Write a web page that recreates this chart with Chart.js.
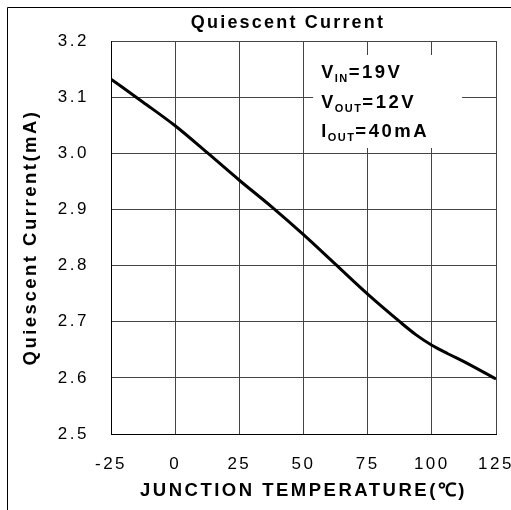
<!DOCTYPE html>
<html>
<head>
<meta charset="utf-8">
<script src="https://cdn.jsdelivr.net/npm/chart.js@4"></script>
<style>
  html, body { margin: 0; padding: 0; background: #fff; }
</style>
</head>
<body>
<canvas id="qc" width="511" height="510"></canvas>
<script>
// values
const temps = [-25, -12.5, 0, 12.5, 25, 37.5, 50, 62.5, 75, 87.5, 93.75, 100, 106.25, 112.5, 125];
const currentMA = [3.132, 3.091, 3.049, 3.001, 2.952, 2.905, 2.855, 2.802, 2.749, 2.700, 2.677, 2.658, 2.643, 2.629, 2.598];
const xTicks = [-25, 0, 25, 50, 75, 100, 125];
const yTicks = [2.5, 2.6, 2.7, 2.8, 2.9, 3.0, 3.1, 3.2];
const conditions = [['V', 'IN', '=19V'], ['V', 'OUT', '=12V'], ['I', 'OUT', '=40mA']];

const FONT = "'Liberation Sans', Arial, sans-serif";
const SPACING = '2.5px';

// frame, title and the test-condition box
const sheet = {
  id: 'sheet',
  beforeLayout(chart) {
    chart.ctx.letterSpacing = SPACING;
  },
  beforeDraw(chart) {
    const c = chart.ctx;
    c.letterSpacing = SPACING;
    c.save();
    c.fillStyle = '#fff';
    c.fillRect(0, 0, chart.width, chart.height);
    c.strokeStyle = '#000';
    c.lineWidth = 1;
    c.beginPath();
    c.moveTo(7.5, chart.height);
    c.lineTo(7.5, 7.5);
    c.lineTo(chart.width, 7.5);
    c.stroke();
    c.restore();
  },
  afterDraw(chart) {
    const c = chart.ctx;
    const a = chart.chartArea;
    c.save();
    c.fillStyle = '#000';
    c.letterSpacing = '2.2px';
    c.font = 'bold 18px ' + FONT;
    c.textAlign = 'center';
    c.textBaseline = 'alphabetic';
    c.fillText('Quiescent Current', 288, 28);

    // white box hiding the grid behind the text
    const bx = a.left + (a.right - a.left) * 0.525;
    const by = a.top + 14;
    c.fillStyle = '#fff';
    c.fillRect(bx, by, 149, 93);

    c.fillStyle = '#000';
    c.textAlign = 'left';
    let base = by + 23;
    conditions.forEach(([main, sub, rest]) => {
      let x = bx + 8;
      c.letterSpacing = '2.5px';
      c.font = 'bold 18px ' + FONT;
      c.fillText(main, x, base);
      x += c.measureText(main).width - 1;
      c.letterSpacing = '1.5px';
      c.font = 'bold 11px ' + FONT;
      c.fillText(sub, x, base + 4);
      x += c.measureText(sub).width;
      c.letterSpacing = '2.5px';
      c.font = 'bold 18.5px ' + FONT;
      c.fillText(rest, x, base);
      base += 29.5;
    });
    c.restore();
    c.letterSpacing = SPACING;
  }
};

new Chart(document.getElementById('qc'), {
  type: 'line',
  data: {
    datasets: [{
      data: temps.map((t, i) => ({ x: t, y: currentMA[i] })),
      borderColor: '#000',
      borderWidth: 3,
      pointRadius: 0,
      cubicInterpolationMode: 'monotone',
      fill: false
    }]
  },
  options: {
    responsive: false,
    animation: false,
    devicePixelRatio: 1,
    layout: { padding: { top: 41, left: 0, right: 0, bottom: 0 } },
    plugins: {
      legend: { display: false },
      title: { display: false },
      tooltip: { enabled: false }
    },
    scales: {
      x: {
        type: 'linear',
        min: -25,
        max: 125,
        afterBuildTicks: s => { s.ticks = xTicks.map(v => ({ value: v })); },
        afterFit: s => { s.height = 76; s.paddingRight = 15; },
        grid: { color: '#444', lineWidth: 1, drawTicks: false },
        border: { display: true, color: '#000', width: 1 },
        ticks: {
          color: '#000',
          padding: 20,
          maxRotation: 0,
          font: { family: FONT, size: 17 },
          callback: v => String(v)
        },
        title: {
          display: true,
          text: 'JUNCTION TEMPERATURE(℃)',
          color: '#000',
          font: { family: FONT, size: 18.5, weight: 'bold' },
          padding: { top: 0, bottom: 8 }
        }
      },
      y: {
        min: 2.5,
        max: 3.2,
        afterBuildTicks: s => { s.ticks = yTicks.map(v => ({ value: v })); },
        afterFit: s => { s.width = 111; },
        grid: { color: '#444', lineWidth: 1, drawTicks: false },
        border: { display: true, color: '#000', width: 1 },
        ticks: {
          color: '#000',
          padding: 22,
          font: { family: FONT, size: 17 },
          callback: v => v.toFixed(1)
        },
        title: {
          display: true,
          text: 'Quiescent Current(mA)',
          color: '#000',
          font: { family: FONT, size: 18.5, weight: 'bold' },
          padding: { top: 20, bottom: 0 }
        }
      }
    }
  },
  plugins: [sheet]
});
</script>
</body>
</html>
